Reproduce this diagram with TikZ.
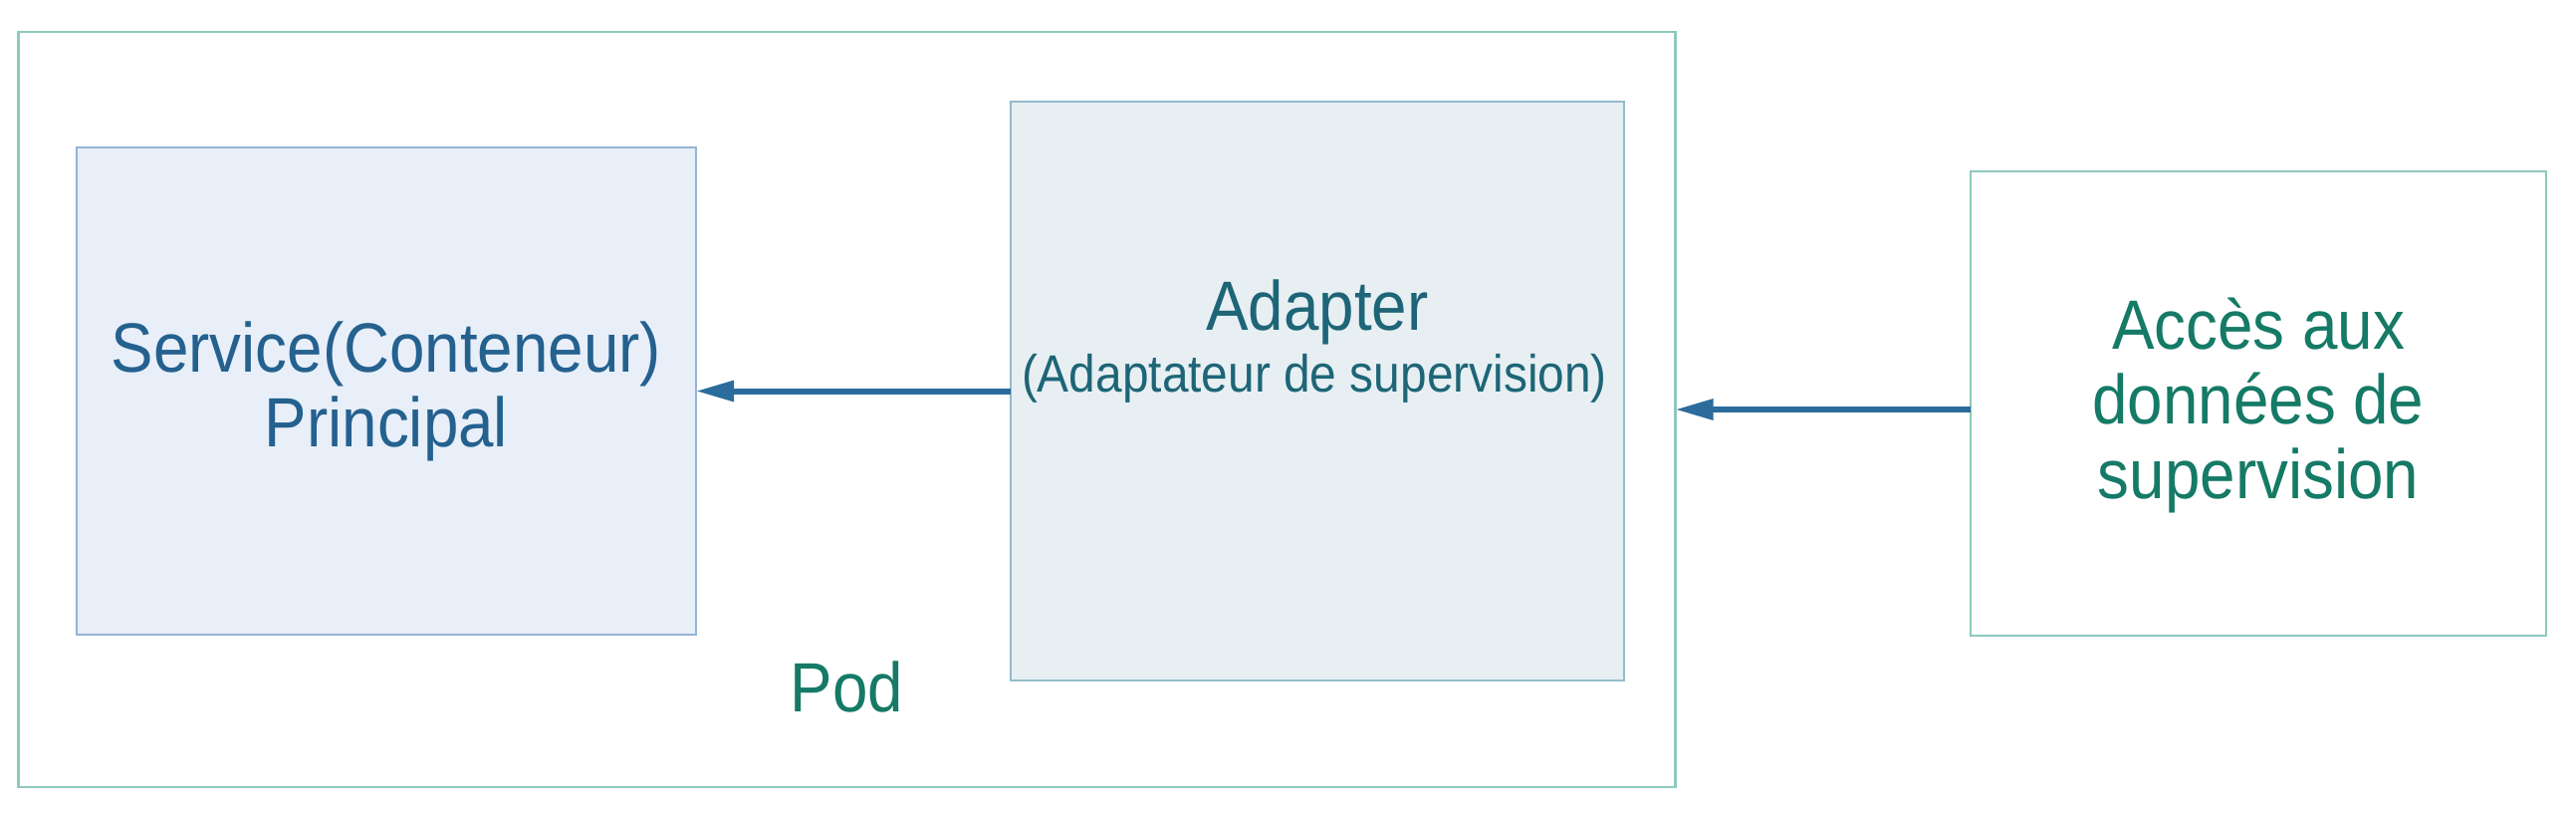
\documentclass[tikz,border=0pt]{standalone}
\usepackage{fontspec}
\setmainfont[FakeStretch=0.91]{Liberation Sans}
\usetikzlibrary{arrows.meta}
\definecolor{podline}{HTML}{8EC9BD}
\definecolor{servline}{HTML}{94B4D4}
\definecolor{servfill}{HTML}{E8EFF8}
\definecolor{servtext}{HTML}{24618F}
\definecolor{adaline}{HTML}{93BCCB}
\definecolor{adafill}{HTML}{E7EFF3}
\definecolor{adatext}{HTML}{1D6577}
\definecolor{greentext}{HTML}{157A66}
\definecolor{arrowcol}{HTML}{2B6C9C}
\newcommand\bigtxt{\fontsize{35}{37.5}\selectfont}
\newcommand\smalltxt{\fontsize{26.3}{30}\selectfont}
\begin{document}
\begin{tikzpicture}[x=0.5pt,y=-0.5pt,
  box/.style={draw, line width=1.25pt, inner sep=0pt, outer sep=0pt, align=center},
  arr/.style={draw=arrowcol, line width=3pt, -{Triangle[length=19pt,width=10pt]}}]
\useasboundingbox (0,0) rectangle (2587,815);
\fill[white] (0,0) rectangle (2587,815);
\node[box, draw=podline, minimum width=832pt, minimum height=379pt] (pod) at (850.5,411) {};
\node[box, draw=servline, fill=servfill, text=servtext, font=\bigtxt,
      minimum width=311pt, minimum height=244.5pt] (service) at (388,392.5) {Service(Conteneur)\\Principal};
\node[box, draw=adaline, fill=adafill, minimum width=308pt, minimum height=290.5pt] (adapter) at (1323,392.5) {};
\node[anchor=base, text=adatext, font=\bigtxt, inner sep=0pt] (adatitle) at (1323,331) {Adapter};
\node[anchor=base, text=adatext, font=\smalltxt, inner sep=0pt] (adasub) at (1320,393) {(Adaptateur de supervision)};
\node[box, draw=podline, minimum width=289pt, minimum height=233pt] (access) at (2268,405) {};
\node[text=greentext, font=\bigtxt, align=center, inner sep=0pt] (accesstext) at (2268,407) {Accès aux\\données de\\supervision};
\node[anchor=base, text=greentext, font=\bigtxt, inner sep=0pt] (podlabel) at (850.5,714) {Pod};
\draw[arr] (adapter.west) -- (service.east);
\draw[arr] (access.west |- pod.east) -- (pod.east);
\end{tikzpicture}
\end{document}
